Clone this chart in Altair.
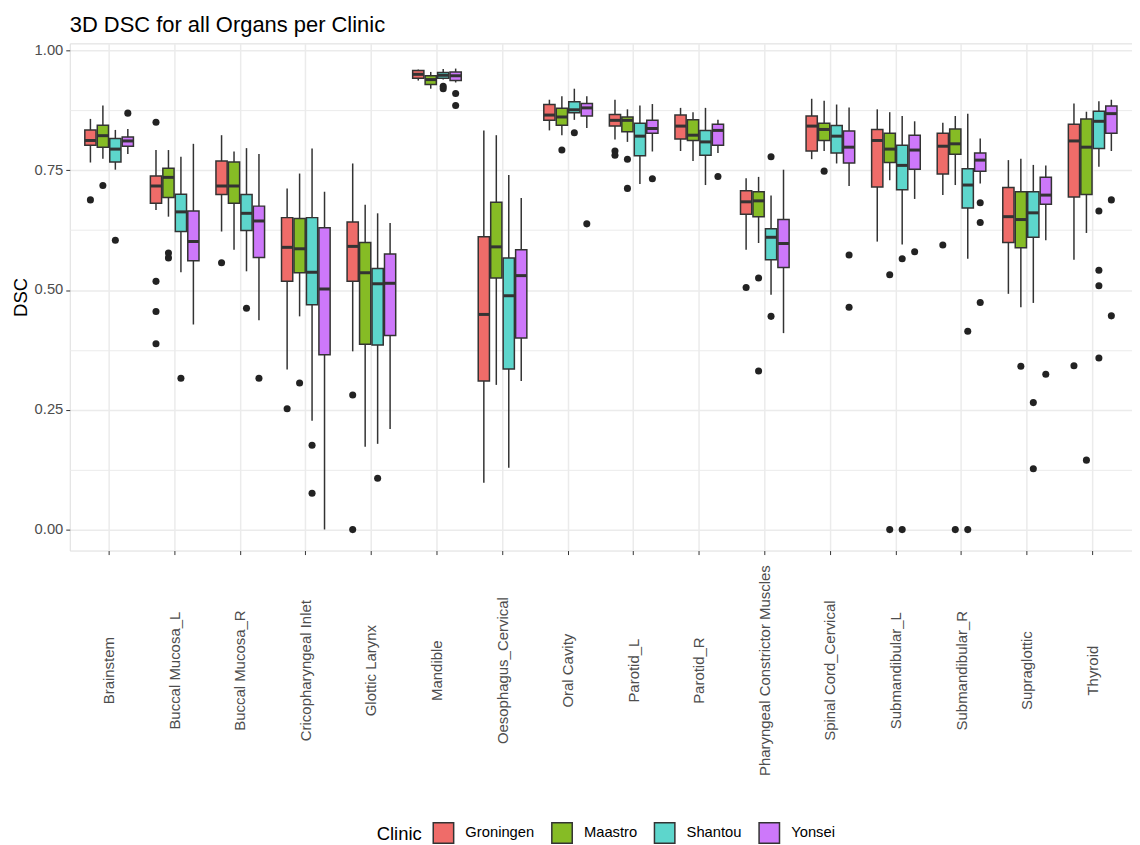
import altair as alt
import pandas as pd

organs = ["Brainstem", "Buccal Mucosa_L", "Buccal Mucosa_R", "Cricopharyngeal Inlet",
          "Glottic Larynx", "Mandible", "Oesophagus_Cervical", "Oral Cavity",
          "Parotid_L", "Parotid_R", "Pharyngeal Constrictor Muscles",
          "Spinal Cord_Cervical", "Submandibular_L", "Submandibular_R",
          "Supraglottic", "Thyroid"]
clinics = ["Groningen", "Maastro", "Shantou", "Yonsei"]
clinic_colors = ["#EF6C69", "#86BC25", "#5DD6CC", "#CD78FA"]

# per organ: [Groningen, Maastro, Shantou, Yonsei]
whisker_lo = [
    [0.766, 0.774, 0.751, 0.784], [0.667, 0.653, 0.537, 0.428], [0.622, 0.584, 0.539, 0.437],
    [0.334, 0.445, 0.227, 0.000], [0.372, 0.173, 0.179, 0.210], [0.937, 0.920, 0.939, 0.933],
    [0.098, 0.302, 0.129, 0.310], [0.833, 0.823, 0.855, 0.838], [0.814, 0.809, 0.721, 0.789],
    [0.790, 0.769, 0.719, 0.786], [0.584, 0.598, 0.490, 0.410], [0.773, 0.790, 0.764, 0.717],
    [0.601, 0.729, 0.595, 0.690], [0.698, 0.719, 0.565, 0.722], [0.492, 0.464, 0.473, 0.604],
    [0.563, 0.619, 0.757, 0.790]]
q1 = [
    [0.802, 0.798, 0.767, 0.800], [0.681, 0.693, 0.622, 0.561], [0.699, 0.681, 0.624, 0.568],
    [0.518, 0.536, 0.469, 0.365], [0.518, 0.387, 0.385, 0.405], [0.942, 0.929, 0.942, 0.937],
    [0.310, 0.525, 0.335, 0.400], [0.854, 0.844, 0.870, 0.863], [0.842, 0.830, 0.780, 0.827],
    [0.815, 0.812, 0.781, 0.802], [0.658, 0.653, 0.563, 0.547], [0.790, 0.812, 0.786, 0.765],
    [0.715, 0.766, 0.709, 0.752], [0.742, 0.783, 0.671, 0.748], [0.599, 0.588, 0.610, 0.679],
    [0.694, 0.699, 0.795, 0.827]]
median = [
    [0.812, 0.822, 0.794, 0.811], [0.717, 0.735, 0.663, 0.601], [0.717, 0.717, 0.660, 0.644],
    [0.589, 0.586, 0.537, 0.502], [0.591, 0.536, 0.513, 0.514], [0.950, 0.939, 0.948, 0.947],
    [0.449, 0.590, 0.488, 0.530], [0.865, 0.861, 0.876, 0.880], [0.854, 0.854, 0.821, 0.837],
    [0.842, 0.823, 0.809, 0.833], [0.684, 0.686, 0.610, 0.597], [0.842, 0.835, 0.821, 0.798],
    [0.812, 0.794, 0.760, 0.792], [0.800, 0.805, 0.719, 0.771], [0.653, 0.647, 0.661, 0.698],
    [0.811, 0.798, 0.852, 0.868]]
q3 = [
    [0.834, 0.844, 0.816, 0.819], [0.738, 0.754, 0.700, 0.665], [0.769, 0.767, 0.699, 0.675],
    [0.651, 0.649, 0.651, 0.630], [0.642, 0.599, 0.545, 0.575], [0.958, 0.947, 0.954, 0.955],
    [0.611, 0.683, 0.567, 0.584], [0.887, 0.879, 0.893, 0.889], [0.866, 0.861, 0.848, 0.854],
    [0.865, 0.855, 0.833, 0.846], [0.707, 0.705, 0.628, 0.647], [0.863, 0.848, 0.843, 0.832],
    [0.835, 0.827, 0.802, 0.823], [0.827, 0.836, 0.753, 0.786], [0.714, 0.705, 0.705, 0.735],
    [0.846, 0.857, 0.873, 0.884]]
whisker_hi = [
    [0.857, 0.885, 0.834, 0.836], [0.792, 0.792, 0.778, 0.805], [0.823, 0.789, 0.796, 0.784],
    [0.712, 0.743, 0.795, 0.705], [0.764, 0.678, 0.660, 0.640], [0.960, 0.955, 0.961, 0.962],
    [0.833, 0.823, 0.740, 0.692], [0.897, 0.904, 0.920, 0.904], [0.897, 0.877, 0.885, 0.888],
    [0.880, 0.871, 0.880, 0.855], [0.733, 0.736, 0.697, 0.751], [0.899, 0.895, 0.887, 0.881],
    [0.877, 0.871, 0.863, 0.852], [0.849, 0.863, 0.868, 0.816], [0.771, 0.774, 0.761, 0.760],
    [0.889, 0.872, 0.894, 0.897]]

# outliers: (organ, clinic, value)
outliers = [
    ("Brainstem", "Groningen", 0.688), ("Brainstem", "Maastro", 0.718),
    ("Brainstem", "Shantou", 0.604), ("Brainstem", "Yonsei", 0.869),
    ("Buccal Mucosa_L", "Groningen", 0.850), ("Buccal Mucosa_L", "Groningen", 0.518),
    ("Buccal Mucosa_L", "Groningen", 0.455), ("Buccal Mucosa_L", "Groningen", 0.388),
    ("Buccal Mucosa_L", "Maastro", 0.577), ("Buccal Mucosa_L", "Maastro", 0.567),
    ("Buccal Mucosa_L", "Shantou", 0.316),
    ("Buccal Mucosa_R", "Groningen", 0.557), ("Buccal Mucosa_R", "Shantou", 0.462),
    ("Buccal Mucosa_R", "Yonsei", 0.316),
    ("Cricopharyngeal Inlet", "Groningen", 0.252), ("Cricopharyngeal Inlet", "Maastro", 0.306),
    ("Cricopharyngeal Inlet", "Shantou", 0.176), ("Cricopharyngeal Inlet", "Shantou", 0.076),
    ("Glottic Larynx", "Groningen", 0.281), ("Glottic Larynx", "Groningen", 0.000),
    ("Glottic Larynx", "Shantou", 0.107),
    ("Mandible", "Shantou", 0.925), ("Mandible", "Shantou", 0.920),
    ("Mandible", "Yonsei", 0.910), ("Mandible", "Yonsei", 0.885),
    ("Oral Cavity", "Maastro", 0.792), ("Oral Cavity", "Shantou", 0.828),
    ("Oral Cavity", "Yonsei", 0.638),
    ("Parotid_L", "Groningen", 0.790), ("Parotid_L", "Groningen", 0.781),
    ("Parotid_L", "Maastro", 0.773), ("Parotid_L", "Maastro", 0.712),
    ("Parotid_L", "Yonsei", 0.732),
    ("Parotid_R", "Yonsei", 0.737),
    ("Pharyngeal Constrictor Muscles", "Groningen", 0.505),
    ("Pharyngeal Constrictor Muscles", "Maastro", 0.525),
    ("Pharyngeal Constrictor Muscles", "Maastro", 0.331),
    ("Pharyngeal Constrictor Muscles", "Shantou", 0.778),
    ("Pharyngeal Constrictor Muscles", "Shantou", 0.445),
    ("Spinal Cord_Cervical", "Maastro", 0.748), ("Spinal Cord_Cervical", "Yonsei", 0.573),
    ("Spinal Cord_Cervical", "Yonsei", 0.464),
    ("Submandibular_L", "Maastro", 0.532), ("Submandibular_L", "Maastro", 0.000),
    ("Submandibular_L", "Shantou", 0.565), ("Submandibular_L", "Shantou", 0.000),
    ("Submandibular_L", "Yonsei", 0.580),
    ("Submandibular_R", "Groningen", 0.594), ("Submandibular_R", "Maastro", 0.000),
    ("Submandibular_R", "Shantou", 0.414), ("Submandibular_R", "Shantou", 0.000),
    ("Submandibular_R", "Yonsei", 0.682), ("Submandibular_R", "Yonsei", 0.641),
    ("Submandibular_R", "Yonsei", 0.474),
    ("Supraglottic", "Maastro", 0.341), ("Supraglottic", "Shantou", 0.265),
    ("Supraglottic", "Shantou", 0.127), ("Supraglottic", "Yonsei", 0.324),
    ("Thyroid", "Groningen", 0.342), ("Thyroid", "Maastro", 0.145),
    ("Thyroid", "Shantou", 0.665), ("Thyroid", "Shantou", 0.541),
    ("Thyroid", "Shantou", 0.509), ("Thyroid", "Shantou", 0.358),
    ("Thyroid", "Yonsei", 0.688), ("Thyroid", "Yonsei", 0.446),
]

rows = []
for i, o in enumerate(organs):
    for j, c in enumerate(clinics):
        rows.append(dict(organ=o, clinic=c, lo=whisker_lo[i][j], q1=q1[i][j],
                         med=median[i][j], q3=q3[i][j], hi=whisker_hi[i][j]))
stats = pd.DataFrame(rows)
outl = pd.DataFrame(outliers, columns=["organ", "clinic", "value"])

FONT = "Liberation Sans"
DARK = "#333333"

x_enc = alt.X("organ:N", sort=organs, title=None,
              scale=alt.Scale(paddingInner=0, paddingOuter=0.1),
              axis=alt.Axis(labelAngle=270, labelAlign="center", labelBaseline="middle",
                            labelPadding=116, labelFontSize=15, labelColor="#4D4D4D",
                            labelFont=FONT, tickColor=DARK, tickSize=4, domain=False,
                            grid=True, gridColor="#EBEBEB", gridWidth=1.5,
                            labelOverlap=False, labelLimit=400))
xo_enc = alt.XOffset("clinic:N", sort=clinics,
                     scale=alt.Scale(paddingInner=0.1, paddingOuter=0.68))
y_scale = alt.Scale(domain=[-0.0437, 1.0146], nice=False, zero=False)
y_axis = alt.Axis(values=[0, 0.125, 0.25, 0.375, 0.5, 0.625, 0.75, 0.875, 1.0],
                  labelExpr="(datum.value*4) % 1 == 0 ? format(datum.value, '.2f') : ''",
                  tickOpacity={"condition": {"test": "(datum.value*4) % 1 != 0", "value": 0}, "value": 1},
                  gridWidth={"condition": {"test": "(datum.value*4) % 1 != 0", "value": 1}, "value": 1.5},
                  labelFontSize=14.8, labelColor="#4D4D4D", labelFont=FONT, labelPadding=3,
                  tickColor=DARK, tickSize=4, domain=False, grid=True, gridColor="#EBEBEB",
                  title="DSC", titleFontSize=18.5, titleFontWeight="normal", titleFont=FONT,
                  titleColor="black", titlePadding=4)

base = alt.Chart(stats)

whiskers = base.mark_rule(color=DARK, strokeWidth=1.5).encode(
    x=x_enc, xOffset=xo_enc,
    y=alt.Y("lo:Q", scale=y_scale, axis=y_axis),
    y2="hi:Q")

boxes = base.mark_bar(stroke=DARK, strokeWidth=1.5).encode(
    x=x_enc, xOffset=xo_enc,
    y=alt.Y("q1:Q", scale=y_scale, axis=y_axis),
    y2="q3:Q",
    color=alt.Color("clinic:N", sort=clinics,
                    scale=alt.Scale(domain=clinics, range=clinic_colors),
                    legend=alt.Legend(title="Clinic", orient="none", direction="horizontal",
                                      legendX=308, legendY=781,
                                      titleOrient="left", titleFontSize=18.5,
                                      titleFontWeight="normal", titleColor="black",
                                      titleFont=FONT, labelFont=FONT, labelFontSize=14.8,
                                      labelColor="black", symbolType="square",
                                      symbolSize=420, symbolStrokeColor=DARK,
                                      symbolStrokeWidth=1.5, symbolOpacity=1,
                                      columnPadding=13, labelOffset=11, titlePadding=10)))

medians = base.mark_tick(color=DARK, thickness=3, size=11, opacity=1).encode(
    x=x_enc, xOffset=xo_enc,
    y=alt.Y("med:Q", scale=y_scale, axis=y_axis))

points = alt.Chart(outl).mark_circle(color="#222222", size=50, opacity=1).encode(
    x=x_enc, xOffset=xo_enc,
    y=alt.Y("value:Q", scale=y_scale, axis=y_axis))

chart = alt.layer(whiskers, boxes, medians, points).properties(
    width=1066, height=509,
    padding={"left": 3, "top": 5, "right": 0, "bottom": 0},
    title=alt.Title("3D DSC for all Organs per Clinic", anchor="start", frame="group",
                    fontSize=22, fontWeight="normal", font=FONT, color="black", offset=5),
).configure_view(stroke="#4D4D4D", strokeWidth=1.5).configure(font=FONT)

chart.save("out.html", embed_options={"renderer": "svg", "actions": False})
